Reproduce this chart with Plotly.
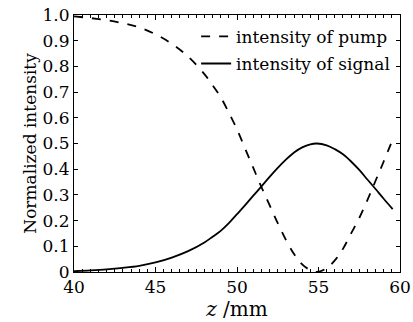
import plotly.graph_objects as go

z = [40, 41, 42, 43, 44, 45, 46, 47, 48, 48.5, 49, 49.5, 50, 50.5, 51, 51.5, 52,
     52.5, 53, 53.5, 54, 54.5, 54.9, 55.5, 56, 56.5, 57, 57.5, 58, 58.5, 59, 59.55]
pump = [0.995, 0.988, 0.98, 0.968, 0.952, 0.925, 0.888, 0.838, 0.77, 0.727, 0.68,
        0.62, 0.555, 0.48, 0.405, 0.33, 0.26, 0.19, 0.125, 0.07, 0.03, 0.007, 0.0,
        0.015, 0.045, 0.09, 0.15, 0.21, 0.28, 0.355, 0.43, 0.515]
signal = [0.003, 0.006, 0.01, 0.016, 0.024, 0.037, 0.056, 0.081, 0.115, 0.137, 0.16,
          0.19, 0.225, 0.26, 0.297, 0.333, 0.37, 0.405, 0.437, 0.465, 0.485, 0.497,
          0.5, 0.493, 0.478, 0.458, 0.43, 0.397, 0.36, 0.323, 0.285, 0.245]

x_ticks = [40, 45, 50, 55, 60]
y_ticks = [0, 0.1, 0.2, 0.3, 0.4, 0.5, 0.6, 0.7, 0.8, 0.9, 1.0]
y_labels = ["0", "0.1", "0.2", "0.3", "0.4", "0.5", "0.6", "0.7", "0.8", "0.9", "1.0"]

FONT = "DejaVu Serif"

fig = go.Figure()
fig.add_trace(go.Scatter(x=z, y=pump, mode="lines", name="intensity of pump",
                         legendgroup="p",
                         line=dict(color="black", width=1.8, dash="dash", shape="spline")))
fig.add_trace(go.Scatter(x=z, y=signal, mode="lines", name="intensity of signal",
                         legendgroup="s",
                         line=dict(color="black", width=1.8, shape="spline")))

fig.update_layout(
    width=413, height=322,
    margin=dict(l=74, r=13, t=15, b=50, autoexpand=False),
    paper_bgcolor="white", plot_bgcolor="white",
    font=dict(family=FONT, color="black", size=16),
    showlegend=True,
    legend=dict(x=0.985, y=0.985, xanchor="right", yanchor="top",
                bgcolor="rgba(0,0,0,0)", font=dict(size=17, family=FONT),
                itemwidth=30, tracegroupgap=2),
    xaxis=dict(range=[40, 60], tickvals=x_ticks, ticktext=[str(v) for v in x_ticks],
               showgrid=False, zeroline=False, showline=True, linecolor="black",
               linewidth=1, mirror="ticks", ticks="inside", ticklen=5,
               tickcolor="black", automargin=False,
               minor=dict(dtick=0.5, ticks="inside", ticklen=3, tickcolor="black",
                          showgrid=False),
               tickfont=dict(size=17, family=FONT),
               title=dict(text="<i>z</i> /mm", font=dict(size=20, family=FONT), standoff=0)),
    yaxis=dict(range=[0, 1.0], tickvals=y_ticks, ticktext=y_labels,
               showgrid=False, zeroline=False, showline=True, linecolor="black",
               linewidth=1, mirror="ticks", ticks="inside", ticklen=4,
               tickcolor="black", automargin=False,
               tickfont=dict(size=17, family=FONT),
               title=dict(text="Normalized intensity", font=dict(size=17, family=FONT),
                          standoff=1)),
)

fig.write_html("out.html",
               config={"displayModeBar": False},
               post_script="document.body.style.margin='0';document.body.style.overflow='hidden';")
